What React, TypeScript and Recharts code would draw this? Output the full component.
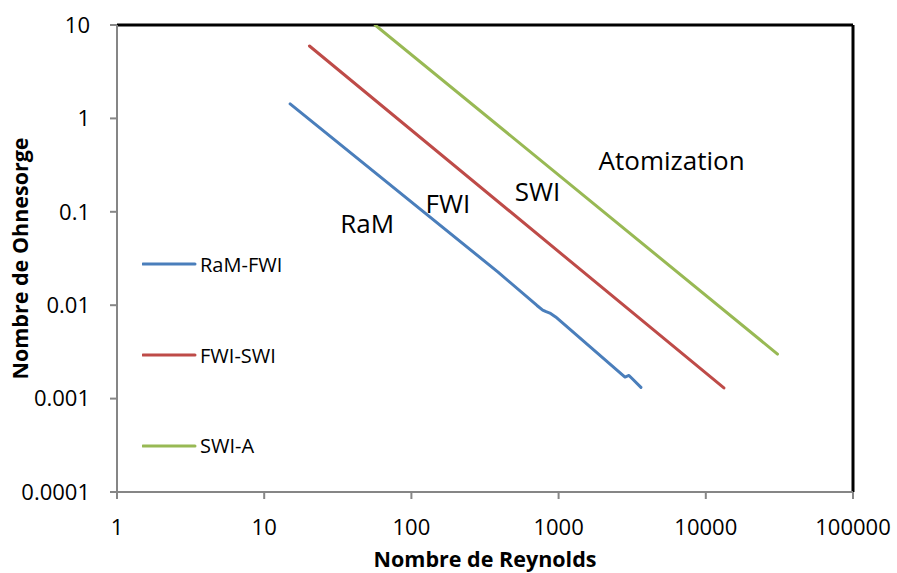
import React from 'react';
import { LineChart, Line, XAxis, YAxis, ReferenceLine, ReferenceDot, Label } from 'recharts';

const xTicks = [1, 10, 100, 1000, 10000, 100000];
const yTicks = [0.0001, 0.001, 0.01, 0.1, 1, 10];

const ramFwiRe = [15.0, 388, 713, 780, 822, 872, 955, 2826, 3006, 3155, 3626];
const ramFwiOh = [1.43, 0.0226, 0.00993, 0.00885, 0.00852, 0.00824, 0.00748, 0.0017, 0.00177, 0.00164, 0.00132];

const fwiSwiRe = [20.3, 13270];
const fwiSwiOh = [5.96, 0.0013];

const swiARe = [56.7, 30700];
const swiAOh = [10, 0.003];

const regionLabels = ['Atomization', 'SWI', 'FWI', 'RaM'];
const regionRe = [5860, 719, 177, 50];
const regionOh = [0.35, 0.163, 0.121, 0.074];

const toPts = (xs: number[], ys: number[]) => xs.map((x, i) => ({ x, y: ys[i] }));

const series = [
  { name: 'RaM-FWI', color: '#4a7ebb', data: toPts(ramFwiRe, ramFwiOh) },
  { name: 'FWI-SWI', color: '#be4b48', data: toPts(fwiSwiRe, fwiSwiOh) },
  { name: 'SWI-A', color: '#98b954', data: toPts(swiARe, swiAOh) },
];

const FONT = 'Open Sans, sans-serif';

const fmt = (v: number) => String(v);

const LegendBox = () => (
  <div
    style={{
      position: 'absolute',
      left: 142,
      top: 219,
      fontFamily: FONT,
      fontSize: 20,
      color: '#000',
      pointerEvents: 'none',
    }}
  >
    {series.map((s) => (
      <div key={s.name} style={{ display: 'flex', alignItems: 'center', height: 90.7 }}>
        <svg width={58} height={6}>
          <line x1={1} y1={3} x2={53} y2={3} stroke={s.color} strokeWidth={3} strokeLinecap="round" />
        </svg>
        <span>{s.name}</span>
      </div>
    ))}
  </div>
);

export default function App() {
  return (
    <div style={{ position: 'absolute', left: 0, top: 0, width: 897, height: 573, background: '#fff' }}>
      <LineChart width={897} height={573} margin={{ top: 25, right: 44, bottom: 0, left: 0 }}>
        <XAxis
          type="number"
          dataKey="x"
          scale="log"
          domain={[1, 100000]}
          ticks={xTicks}
          allowDataOverflow
          height={81}
          tickFormatter={fmt}
          stroke="#868686"
          strokeWidth={2}
          tickSize={7}
          tickMargin={20}
          tick={{ fill: '#000', fontSize: 22, fontFamily: FONT }}
        >
          <Label
            value="Nombre de Reynolds"
            position="insideBottom"
            offset={6}
            style={{ fontFamily: FONT, fontSize: 21.5, fontWeight: 'bold', fill: '#000' }}
          />
        </XAxis>
        <YAxis
          type="number"
          dataKey="y"
          scale="log"
          domain={[0.0001, 10]}
          ticks={yTicks}
          allowDataOverflow
          width={117}
          tickFormatter={fmt}
          stroke="#868686"
          strokeWidth={2}
          tickSize={7}
          tickMargin={20}
          tick={{ fill: '#000', fontSize: 22, fontFamily: FONT }}
        >
          <Label
            value="Nombre de Ohnesorge"
            angle={-90}
            position="insideLeft"
            offset={20}
            style={{ fontFamily: FONT, fontSize: 21.5, fontWeight: 'bold', fill: '#000', textAnchor: 'middle' }}
          />
        </YAxis>
        <ReferenceLine y={10} stroke="#000" strokeWidth={3} />
        <ReferenceLine x={100000} stroke="#000" strokeWidth={3} />
        {series.map((s) => (
          <Line
            key={s.name}
            data={s.data}
            dataKey="y"
            name={s.name}
            type="linear"
            stroke={s.color}
            strokeWidth={3}
            strokeLinejoin="round"
            strokeLinecap="round"
            dot={false}
            isAnimationActive={false}
          />
        ))}
        {regionLabels.map((t, i) => (
          <ReferenceDot
            key={t}
            x={regionRe[i]}
            y={regionOh[i]}
            r={1}
            fill="none"
            stroke="none"
            ifOverflow="visible"
            label={{ value: t, position: 'center', fontSize: 26, fontFamily: FONT, fill: '#000' }}
          />
        ))}
      </LineChart>
      <LegendBox />
    </div>
  );
}
